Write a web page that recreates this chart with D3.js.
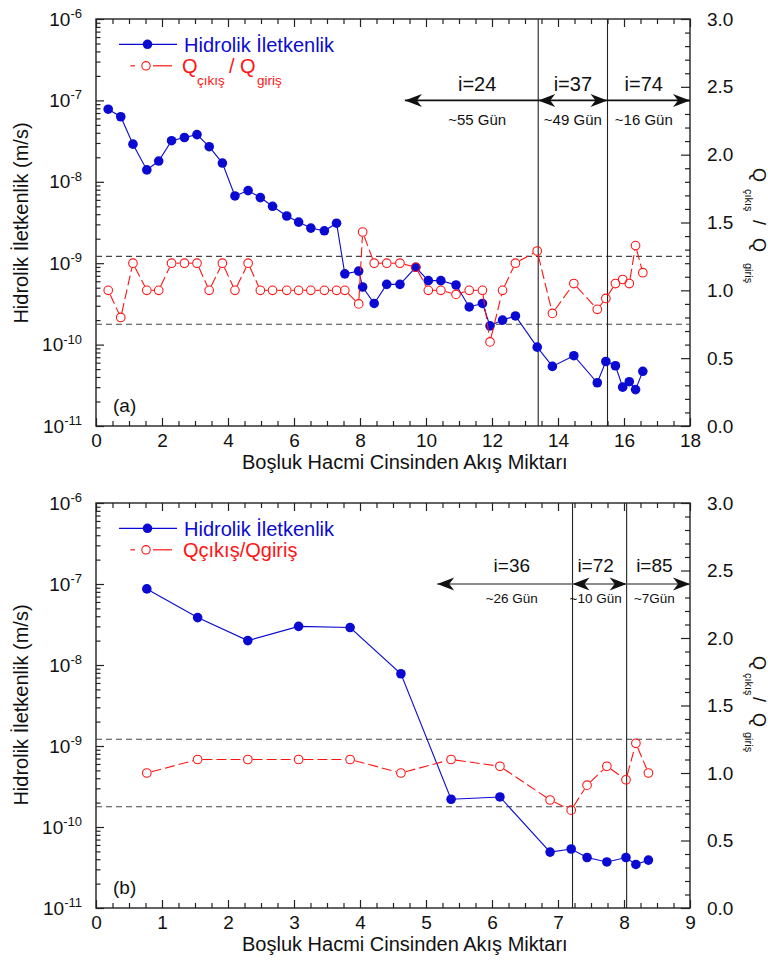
<!DOCTYPE html>
<html>
<head>
<meta charset="utf-8">
<script src="https://cdn.jsdelivr.net/npm/d3@7"></script>
<style>
  body { margin: 0; background: #fff; }
  svg { font-family: "Liberation Sans", Arial, sans-serif; }
</style>
</head>
<body>
<script>
// values

// panel (a)
const aFlow = [0.37, 0.75, 1.12, 1.54, 1.9, 2.29, 2.68, 3.06, 3.43, 3.83, 4.21, 4.61, 4.98, 5.35, 5.78,
  6.14, 6.51, 6.92, 7.29, 7.54, 7.96, 8.08, 8.43, 8.81, 9.21, 9.69, 10.07, 10.45, 10.91, 11.31,
  11.71, 11.94, 12.32, 12.71, 13.37, 13.83, 14.48, 15.19, 15.45, 15.74, 15.96, 16.16, 16.35, 16.57];
const aConductivity = [7.8e-8, 6.3e-8, 2.9e-8, 1.4e-8, 1.8e-8, 3.2e-8, 3.5e-8, 3.8e-8, 2.7e-8, 1.7e-8,
  6.7e-9, 7.8e-9, 6.4e-9, 5.0e-9, 3.8e-9, 3.2e-9, 2.7e-9, 2.5e-9, 3.1e-9, 7.4e-10,
  8.0e-10, 5.1e-10, 3.2e-10, 5.5e-10, 5.5e-10, 8.9e-10, 6.1e-10, 6.1e-10, 5.4e-10, 2.9e-10,
  3.2e-10, 1.7e-10, 2.0e-10, 2.25e-10, 9.3e-11, 5.4e-11, 7.3e-11, 3.4e-11, 6.2e-11, 5.5e-11,
  3.0e-11, 3.5e-11, 2.8e-11, 4.7e-11];
const aRatio = [1.0, 0.8, 1.2, 1.0, 1.0, 1.2, 1.2, 1.2, 1.0, 1.2,
  1.0, 1.2, 1.0, 1.0, 1.0, 1.0, 1.0, 1.0, 1.0, 1.0,
  0.9, 1.43, 1.2, 1.2, 1.2, 1.17, 1.0, 1.0, 0.97, 1.0,
  1.0, 0.62, 1.0, 1.2, 1.29, 0.83, 1.05, 0.86, 0.94, 1.05,
  1.08, 1.05, 1.33, 1.13];
const aBoundaries = [13.4, 15.5];
const aPeriodStart = [9.36, 13.4, 15.5];
const aPeriodEnd = [13.4, 15.5, 18];
const aPeriodHeads = ["start", "both", "end"];
const aGradient = ["i=24", "i=37", "i=74"];
const aDuration = ["~55 Gün", "~49 Gün", "~16 Gün"];
const aLabelAt = [11.55, 14.45, 16.6];

// panel (b)
const bFlow = [0.77, 1.54, 2.3, 3.07, 3.85, 4.62, 5.38, 6.12, 6.88, 7.2, 7.44, 7.74, 8.03, 8.18, 8.37];
const bConductivity = [8.7e-8, 3.85e-8, 2.0e-8, 3.0e-8, 2.9e-8, 7.8e-9, 2.2e-10, 2.35e-10,
  4.9e-11, 5.35e-11, 4.2e-11, 3.7e-11, 4.2e-11, 3.45e-11, 3.9e-11];
const bRatio = [1.0, 1.1, 1.1, 1.1, 1.1, 1.0, 1.1, 1.05, 0.8, 0.725, 0.91, 1.05, 0.95, 1.22, 1.0];
const bBoundaries = [7.22, 8.04];
const bPeriodStart = [5.17, 7.22, 8.04];
const bPeriodEnd = [7.22, 8.04, 9];
const bPeriodHeads = ["start", "both", "end"];
const bGradient = ["i=36", "i=72", "i=85"];
const bDuration = ["~26 Gün", "~10 Gün", "~7Gün"];
const bLabelAt = [6.3, 7.57, 8.46];

// shared
const ratioLimits = [0.75, 1.25];
const arrowLevel = 2.4;
const decades = [-11, -10, -9, -8, -7, -6];
const ratioTicks = [0, 0.5, 1, 1.5, 2, 2.5, 3];
const xTitle = "Boşluk Hacmi Cinsinden Akış Miktarı";
const yTitle = "Hidrolik İletkenlik (m/s)";
const kLegend = "Hidrolik İletkenlik";

const blue = "#0a0ad2", red = "#ff1414", ink = "#222";
const left = 96, right = 690;

let svg = null;

svg = d3.select("body").append("svg")
  .attr("width", 768)
  .attr("height", 961);

drawPanel({
  tag: "(a)", top: 19, bottom: 426, xMax: 18, xMajor: 2, xMinor: 0.5,
  flow: aFlow, k: aConductivity, ratio: aRatio,
  bounds: aBoundaries, pStart: aPeriodStart, pEnd: aPeriodEnd, pHeads: aPeriodHeads,
  gradient: aGradient, duration: aDuration, labelAt: aLabelAt,
  arrowColor: "#111", gradSize: 20, durSize: 15, gradDy: -9, durDy: 25,
  splitLegend: true, yTitleAt: 223, qTitle: [168, 21, 52, 70, 95]
});
drawPanel({
  tag: "(b)", top: 503, bottom: 908, xMax: 9, xMajor: 1, xMinor: 0.25,
  flow: bFlow, k: bConductivity, ratio: bRatio,
  bounds: bBoundaries, pStart: bPeriodStart, pEnd: bPeriodEnd, pHeads: bPeriodHeads,
  gradient: bGradient, duration: bDuration, labelAt: bLabelAt,
  arrowColor: "#666", gradSize: 19, durSize: 13.5, gradDy: -12, durDy: 19,
  splitLegend: false, yTitleAt: 705, qTitle: [656, 17, 41, 57, 76]
});


function drawPanel(p) {
  const g = svg.append("g");
  const x = d3.scaleLinear().domain([0, p.xMax]).range([left, right]);
  const y = d3.scaleLog().domain([1e-11, 1e-6]).range([p.bottom, p.top]);
  const y2 = d3.scaleLinear().domain([0, 3]).range([p.bottom, p.top]);

  // ticks (all inward)
  const xMaj = d3.range(0, p.xMax + 1e-9, p.xMajor);
  const xMin = d3.range(0, p.xMax + 1e-9, p.xMinor)
    .filter(v => !xMaj.some(m => Math.abs(m - v) < 1e-9));

  axis(g, d3.axisBottom(x).tickValues(xMaj).tickSize(-8).tickPadding(7.5).tickFormat(d3.format("d")), 0, p.bottom, 19);
  axis(g, d3.axisBottom(x).tickValues(xMin).tickSize(-5).tickFormat(""), 0, p.bottom);
  axis(g, d3.axisTop(x).tickValues(xMaj).tickSize(-8).tickFormat(""), 0, p.top);
  axis(g, d3.axisTop(x).tickValues(xMin).tickSize(-5).tickFormat(""), 0, p.top);

  const logTicks = y.ticks();
  const logMaj = logTicks.filter(v => Math.abs(Math.log10(v) - Math.round(Math.log10(v))) < 1e-6);
  const logMin = logTicks.filter(v => !logMaj.includes(v));
  axis(g, d3.axisLeft(y).tickValues(logMaj).tickSize(-8).tickFormat(""), left, 0);
  axis(g, d3.axisLeft(y).tickValues(logMin).tickSize(-4.5).tickFormat(""), left, 0);

  const rMin = d3.range(0, 3.001, 0.1).filter(v => !ratioTicks.some(m => Math.abs(m - v) < 1e-6));
  axis(g, d3.axisRight(y2).tickValues(ratioTicks).tickSize(-9).tickPadding(17).tickFormat(d3.format(".1f")), right, 0, 19);
  axis(g, d3.axisRight(y2).tickValues(rMin).tickSize(-5).tickFormat(""), right, 0);

  // frame
  g.append("rect")
    .attr("x", left).attr("y", p.top)
    .attr("width", right - left).attr("height", p.bottom - p.top)
    .attr("fill", "none").attr("stroke", ink).attr("stroke-width", 1.4);

  // log labels 10^n
  const lab = g.selectAll(".ylab").data(decades).enter().append("text")
    .attr("x", 82).attr("y", d => y(Math.pow(10, d)) + 6.5)
    .attr("text-anchor", "end").attr("fill", "#111");
  lab.append("tspan").attr("font-size", 19).text("10");
  lab.append("tspan").attr("font-size", 13).attr("dy", -7.5).text(d => "-" + Math.abs(d));

  // titles
  g.append("text").attr("x", 242).attr("y", p.bottom + 43)
    .attr("font-size", 20).attr("fill", "#111").text(xTitle);
  g.append("text")
    .attr("transform", `translate(28,${p.yTitleAt}) rotate(-90)`)
    .attr("text-anchor", "middle").attr("font-size", 20).attr("fill", "#111").text(yTitle);

  const qt = g.append("text")
    .attr("transform", `translate(753,${p.qTitle[0]}) rotate(90)`)
    .attr("fill", "#111");
  qt.append("tspan").attr("x", 0).attr("y", 0).attr("font-size", 18).text("Q");
  qt.append("tspan").attr("x", p.qTitle[1]).attr("y", 8).attr("font-size", 11).text("çıkış");
  qt.append("tspan").attr("x", p.qTitle[2]).attr("y", 0).attr("font-size", 18).text("/");
  qt.append("tspan").attr("x", p.qTitle[3]).attr("y", 0).attr("font-size", 18).text("Q");
  qt.append("tspan").attr("x", p.qTitle[4]).attr("y", 8).attr("font-size", 11).text("giriş");

  g.append("text").attr("x", 113).attr("y", p.bottom - 14)
    .attr("font-size", 19).attr("fill", "#111").text(p.tag);

  // ratio band
  g.selectAll(".limit").data(ratioLimits).enter().append("line")
    .attr("x1", left).attr("x2", right)
    .attr("y1", d => y2(d)).attr("y2", d => y2(d))
    .attr("stroke", "#444").attr("stroke-width", 1.2).attr("stroke-dasharray", "6,4");

  // period boundaries
  g.selectAll(".bound").data(p.bounds).enter().append("line")
    .attr("x1", d => x(d)).attr("x2", d => x(d))
    .attr("y1", p.top).attr("y2", p.bottom)
    .attr("stroke", ink).attr("stroke-width", 1.1);

  // period arrows
  const ay = y2(arrowLevel);
  p.pStart.forEach((s, i) => {
    g.append("line").attr("x1", x(s)).attr("x2", x(p.pEnd[i]))
      .attr("y1", ay).attr("y2", ay)
      .attr("stroke", p.arrowColor).attr("stroke-width", 1.6);
    if (p.pHeads[i] !== "end") arrowHead(g, x(s), ay, -1);
    if (p.pHeads[i] !== "start") arrowHead(g, x(p.pEnd[i]), ay, 1);
    g.append("text").attr("x", x(p.labelAt[i])).attr("y", ay + p.gradDy)
      .attr("text-anchor", "middle").attr("font-size", p.gradSize).attr("fill", "#111")
      .text(p.gradient[i]);
    g.append("text").attr("x", x(p.labelAt[i])).attr("y", ay + p.durDy)
      .attr("text-anchor", "middle").attr("font-size", p.durSize).attr("fill", "#111")
      .text(p.duration[i]);
  });

  // conductivity series
  const idx = d3.range(p.flow.length);
  const kLine = d3.line().x(i => x(p.flow[i])).y(i => y(p.k[i]));
  g.append("path").datum(idx).attr("d", kLine)
    .attr("fill", "none").attr("stroke", blue).attr("stroke-width", 1.1);
  g.selectAll(".kdot").data(idx).enter().append("circle")
    .attr("cx", i => x(p.flow[i])).attr("cy", i => y(p.k[i]))
    .attr("r", 4.8).attr("fill", blue);

  // outflow/inflow ratio: dashed segments stopping at the open circles
  const rr = 4.3;
  d3.pairs(idx).forEach(([a, b]) => {
    const x0 = x(p.flow[a]), y0 = y2(p.ratio[a]);
    const x1 = x(p.flow[b]), y1 = y2(p.ratio[b]);
    const d = Math.hypot(x1 - x0, y1 - y0);
    if (d <= 2 * rr + 1) return;
    const ux = (x1 - x0) / d, uy = (y1 - y0) / d;
    g.append("line")
      .attr("x1", x0 + ux * (rr + 0.5)).attr("y1", y0 + uy * (rr + 0.5))
      .attr("x2", x1 - ux * (rr + 0.5)).attr("y2", y1 - uy * (rr + 0.5))
      .attr("stroke", red).attr("stroke-width", 1.1).attr("stroke-dasharray", "10,4");
  });
  g.selectAll(".qdot").data(idx).enter().append("circle")
    .attr("cx", i => x(p.flow[i])).attr("cy", i => y2(p.ratio[i]))
    .attr("r", rr).attr("fill", "none").attr("stroke", red).attr("stroke-width", 1.1);

  // legend
  const ly = p.top + 25.3;
  g.append("line").attr("x1", 119).attr("x2", 177).attr("y1", ly).attr("y2", ly)
    .attr("stroke", blue).attr("stroke-width", 1.2);
  g.append("circle").attr("cx", 147.5).attr("cy", ly).attr("r", 4.8).attr("fill", blue);
  g.append("text").attr("x", 184).attr("y", ly + 7.5)
    .attr("font-size", 20).attr("fill", blue).text(kLegend);

  const ry = ly + 21.5;
  g.append("line").attr("x1", 130.5).attr("x2", 135).attr("y1", ry).attr("y2", ry)
    .attr("stroke", red).attr("stroke-width", 1.2);
  g.append("line").attr("x1", 153).attr("x2", 172).attr("y1", ry).attr("y2", ry)
    .attr("stroke", red).attr("stroke-width", 1.2);
  g.append("circle").attr("cx", 146).attr("cy", ry).attr("r", 4.2)
    .attr("fill", "none").attr("stroke", red).attr("stroke-width", 1.1);

  const lt = g.append("text").attr("y", ry + 7.5).attr("fill", red).attr("font-size", 20);
  if (p.splitLegend) {
    lt.append("tspan").attr("x", 182).attr("y", ry + 7.5).text("Q");
    lt.append("tspan").attr("x", 197).attr("y", ry + 19.5).attr("font-size", 13.5).text("çıkış");
    lt.append("tspan").attr("x", 229).attr("y", ry + 7.5).text("/ Q");
    lt.append("tspan").attr("x", 257).attr("y", ry + 19.5).attr("font-size", 13.5).text("giriş");
  } else {
    lt.attr("x", 183).text("Qçıkış/Qgiriş");
  }
}

function axis(g, gen, tx, ty, fontSize) {
  const a = g.append("g").attr("transform", `translate(${tx},${ty})`).call(gen);
  a.select(".domain").remove();
  a.selectAll("line").attr("stroke", ink).attr("stroke-width", 1.2);
  a.selectAll("text").attr("fill", "#111").attr("font-size", fontSize || 0)
    .attr("font-family", "Liberation Sans, Arial, sans-serif");
  return a;
}

function arrowHead(g, xt, yt, dir) {
  g.append("path")
    .attr("d", "M0,0L-17,-6.5L-12,0L-17,6.5Z")
    .attr("transform", `translate(${xt},${yt}) scale(${dir},1)`)
    .attr("fill", "#111");
}
</script>
</body>
</html>
